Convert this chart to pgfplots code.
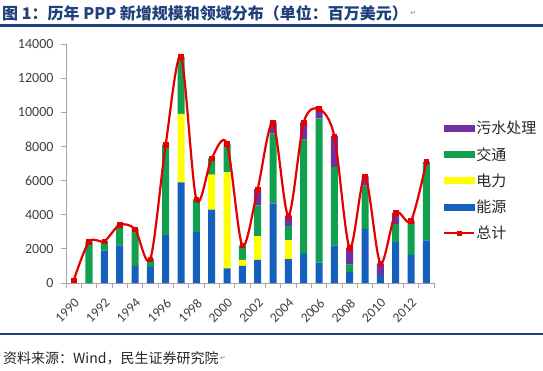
\documentclass[border=0pt]{standalone}
\usepackage{pgfplots}
\usepackage{pgfplotstable}
\pgfplotsset{compat=1.18}
\usepackage{fontspec}
\setmainfont{Carlito}
\newfontfamily\cjk{Noto Sans CJK SC}
\newfontfamily\djv{DejaVu Sans}
\definecolor{cEnergy}{RGB}{21,96,189}
\definecolor{cPower}{RGB}{255,255,0}
\definecolor{cTrans}{RGB}{16,160,80}
\definecolor{cSew}{RGB}{112,48,160}
\definecolor{cTot}{RGB}{228,0,0}
\definecolor{cTitle}{RGB}{31,64,122}
\definecolor{cAx}{RGB}{165,165,165}
\definecolor{cTxt}{RGB}{64,64,64}

\pgfplotsset{totleg/.style={legend image code/.code={\draw[##1] (0pt,0pt) -- (30pt,0pt); \draw[##1, mark size=2pt] plot coordinates {(15pt,0pt)};}}}

\pgfplotstableread{
x E P T S Tot
0 0 0 0 0 150
1 0 0 2420 0 2420
2 1900 0 550 0 2450
3 2200 0 1200 0 3400
4 1000 0 2150 0 3150
5 950 0 450 0 1400
6 2800 0 5300 0 8100
7 5900 4000 3350 0 13250
8 3000 0 1900 0 4900
9 4300 2050 950 0 7300
10 850 5650 1650 0 8150
11 1000 350 850 0 2200
12 1350 1400 1800 950 5500
13 4650 0 4100 650 9400
14 1400 1100 850 600 3950
15 1700 0 6700 1000 9400
16 1200 0 8450 550 10200
17 2200 0 4600 1800 8600
18 650 0 420 1000 2070
19 3150 0 2550 550 6250
20 470 0 0 680 1150
21 2400 0 1050 650 4100
22 1650 0 1800 200 3650
23 2500 0 4450 150 7100
}\data

\begin{document}
\begin{tikzpicture}[x=1pt,y=1pt]
\path[use as bounding box] (0,0) rectangle (543,370);

% title
\node[anchor=west, inner sep=0pt, text=cTitle, font=\cjk\bfseries\fontsize{16pt}{19pt}\selectfont] (ttl) at (2,357) {图 1：历年 PPP 新增规模和领域分布（单位：百万美元）};
\node[anchor=west, inner sep=0pt, text=gray, font=\djv\fontsize{7pt}{8pt}\selectfont] at ([xshift=2pt]ttl.east) {↵};
\draw[cTitle, line width=2.2pt] (0,344.5) -- (543,344.5);
\draw[cTitle, line width=2.2pt] (0,36) -- (543,36);
\node[anchor=west, inner sep=0pt, text=black!85, font=\cjk\fontsize{14pt}{16pt}\selectfont] (src) at (3,12) {资料来源：Wind，民生证券研究院};
\node[anchor=west, inner sep=0pt, text=gray, font=\djv\fontsize{7pt}{8pt}\selectfont] at ([xshift=1pt]src.east) {↵};

\begin{axis}[
  at={(66pt,87pt)}, anchor=south west,
  scale only axis, width=368pt, height=239pt,
  ybar stacked, bar width=7pt,
  xmin=-0.5, xmax=23.5, ymin=0, ymax=14000,
  axis x line*=bottom, axis y line*=left,
  axis line style={cAx, line width=0.9pt, -},
  tick style={cAx, line width=0.8pt},
  tick align=outside, major tick length=5pt,
  xtick={-0.5,0.5,...,23.5}, xticklabels={},
  extra x ticks={0,2,...,22},
  extra x tick labels={1990,1992,1994,1996,1998,2000,2002,2004,2006,2008,2010,2012},
  extra x tick style={major tick length=0pt, grid=none,
     tick label style={rotate=45, anchor=north east, xshift=-7pt, yshift=-7pt, font=\fontsize{13.5pt}{14pt}\selectfont}},
  ytick={0,2000,...,14000},
  scaled y ticks=false,
  yticklabel style={xshift=-4pt},
  /pgf/number format/1000 sep={},
  /pgf/number format/assume math mode=true,
  tick label style={font=\fontsize{14pt}{15pt}\selectfont, text=cTxt},
  clip=false,
]
\addplot[fill=cEnergy, draw=none] table[x=x,y=E]{\data};
\addplot[fill=cPower, draw=none] table[x=x,y=P]{\data};
\addplot[fill=cTrans, draw=none] table[x=x,y=T]{\data};
\addplot[fill=cSew, draw=none] table[x=x,y=S]{\data};
\end{axis}

\begin{axis}[
  at={(66pt,87pt)}, anchor=south west,
  scale only axis, width=368pt, height=239pt,
  xmin=-0.5, xmax=23.5, ymin=0, ymax=14000,
  hide axis, clip=false,
  legend style={at={(1.016,0.69)}, anchor=north west, draw=none, fill=none,
    row sep=10pt, nodes={inner sep=1pt, text=black!85, font=\cjk\fontsize{15pt}{16pt}\selectfont},
    legend cell align=left},
]
\addlegendimage{legend image code/.code={\fill[cSew] (0pt,-3pt) rectangle (30pt,3pt);}}
\addlegendentry{污水处理}
\addlegendimage{legend image code/.code={\fill[cTrans] (0pt,-3pt) rectangle (30pt,3pt);}}
\addlegendentry{交通}
\addlegendimage{legend image code/.code={\fill[cPower] (0pt,-3pt) rectangle (30pt,3pt);}}
\addlegendentry{电力}
\addlegendimage{legend image code/.code={\fill[cEnergy] (0pt,-3pt) rectangle (30pt,3pt);}}
\addlegendentry{能源}
\addplot[cTot, line width=2.2pt, smooth, tension=0.5, mark=square*, mark size=2.3pt,
  mark options={fill=cTot, draw=cTot, line width=0.5pt}, totleg]
  table[x=x,y=Tot]{\data};
\addlegendentry{总计}
\end{axis}
\end{tikzpicture}
\end{document}
